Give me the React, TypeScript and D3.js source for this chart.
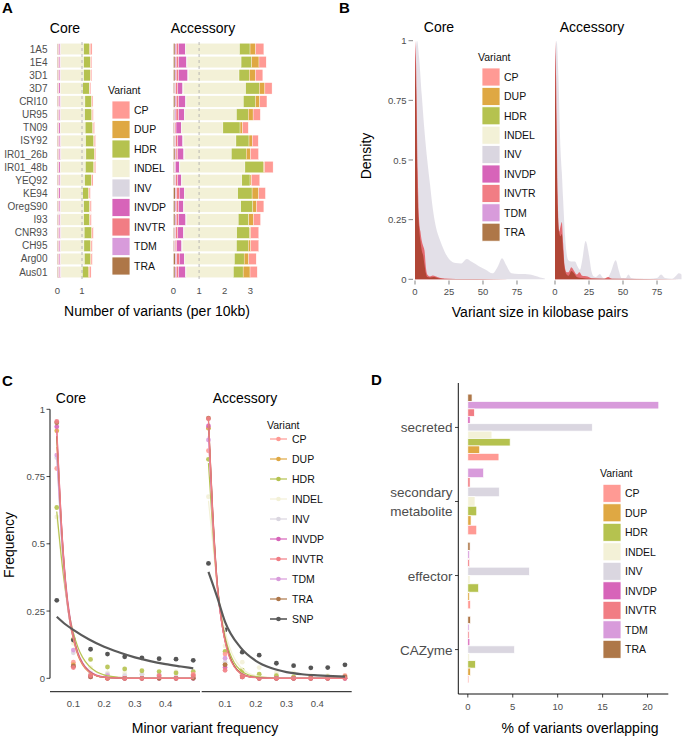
import React from "react";
import * as d3 from "d3";

const FONT = "'Liberation Sans', Arial, Helvetica, sans-serif";
const TXT = "#4D4D4D";

const variants = ["CP", "DUP", "HDR", "INDEL", "INV", "INVDP", "INVTR", "TDM", "TRA"];
const variantColors = ["#FF9A94", "#DFA843", "#B5C24F", "#F3F1D7", "#DAD6E0", "#D764B9", "#F17D84", "#D89BDB", "#AE7748"];
const color = d3.scaleOrdinal<string, string>().domain(variants).range(variantColors);

// ---------------- Panel A data ----------------
const strains = ["1A5", "1E4", "3D1", "3D7", "CRI10", "UR95", "TN09", "ISY92", "IR01_26b", "IR01_48b", "YEQ92", "KE94", "OregS90", "I93", "CNR93", "CH95", "Arg00", "Aus01"];
const coreTRA = [0.04, 0.04, 0.04, 0.03, 0.04, 0.04, 0.03, 0.04, 0.04, 0.03, 0.04, 0.03, 0.04, 0.04, 0.04, 0.04, 0.04, 0.05];
const coreTDM = [0.01, 0.01, 0.01, 0.01, 0.01, 0.01, 0.01, 0.01, 0.01, 0.01, 0.01, 0.01, 0.01, 0.01, 0.01, 0.01, 0.01, 0.01];
const coreINVTR = [0.02, 0.02, 0.02, 0.02, 0.02, 0.02, 0.02, 0.02, 0.02, 0.02, 0.02, 0.02, 0.02, 0.02, 0.02, 0.02, 0.02, 0.02];
const coreINVDP = [0.05, 0.05, 0.05, 0.05, 0.06, 0.05, 0.05, 0.06, 0.06, 0.05, 0.05, 0.05, 0.05, 0.05, 0.06, 0.05, 0.05, 0.05];
const coreINV = [0.01, 0.01, 0.01, 0.01, 0.01, 0.01, 0.01, 0.01, 0.01, 0.01, 0.01, 0.01, 0.01, 0.01, 0.01, 0.01, 0.01, 0.01];
const coreINDEL = [0.94, 0.94, 0.94, 0.91, 0.98, 0.98, 1.01, 1.01, 1.02, 1.02, 0.98, 0.91, 0.94, 0.94, 0.95, 0.95, 0.97, 0.88];
const coreHDR = [0.24, 0.27, 0.27, 0.27, 0.27, 0.29, 0.31, 0.33, 0.34, 0.34, 0.27, 0.24, 0.24, 0.24, 0.29, 0.27, 0.24, 0.24];
const coreDUP = [0.03, 0.02, 0.02, 0.02, 0.02, 0.02, 0.02, 0.02, 0.02, 0.03, 0.02, 0.02, 0.02, 0.02, 0.03, 0.02, 0.03, 0.04];
const coreCP = [0.07, 0.04, 0.04, 0.04, 0.04, 0.04, 0.05, 0.05, 0.04, 0.05, 0.05, 0.05, 0.05, 0.05, 0.05, 0.05, 0.05, 0.07];

const accTRA = [0.06, 0.06, 0.06, 0.05, 0.06, 0.05, 0.04, 0.05, 0.06, 0.04, 0.05, 0.07, 0.06, 0.06, 0.05, 0.04, 0.07, 0.06];
const accTDM = [0.05, 0.05, 0.05, 0.04, 0.05, 0.05, 0.02, 0.04, 0.04, 0.02, 0.04, 0.05, 0.05, 0.05, 0.04, 0.03, 0.06, 0.05];
const accINVTR = [0.09, 0.09, 0.09, 0.08, 0.09, 0.1, 0.04, 0.08, 0.07, 0.02, 0.08, 0.11, 0.09, 0.09, 0.08, 0.06, 0.1, 0.09];
const accINVDP = [0.26, 0.31, 0.36, 0.19, 0.27, 0.22, 0.2, 0.19, 0.23, 0.15, 0.14, 0.19, 0.19, 0.28, 0.22, 0.19, 0.19, 0.27];
const accINV = [0.02, 0.02, 0.02, 0.02, 0.02, 0.02, 0.02, 0.02, 0.02, 0.02, 0.02, 0.02, 0.02, 0.02, 0.02, 0.02, 0.02, 0.02];
const accINDEL = [2.1, 2.11, 1.98, 2.44, 2.24, 2.02, 1.61, 2.06, 1.84, 2.54, 2.34, 2.07, 2.22, 2.03, 2.06, 2.12, 1.94, 1.85];
const accHDR = [0.41, 0.41, 0.4, 0.53, 0.47, 0.46, 0.67, 0.51, 0.58, 0.72, 0.32, 0.56, 0.47, 0.41, 0.5, 0.46, 0.38, 0.38];
const accDUP = [0.22, 0.29, 0.24, 0.22, 0.17, 0.19, 0.1, 0.13, 0.17, 0.05, 0.06, 0.26, 0.15, 0.19, 0.05, 0.1, 0.18, 0.27];
const accCP = [0.32, 0.28, 0.29, 0.28, 0.28, 0.28, 0.22, 0.23, 0.31, 0.33, 0.32, 0.26, 0.28, 0.27, 0.31, 0.31, 0.29, 0.28];

const stackKeys = ["TRA", "TDM", "INVTR", "INVDP", "INV", "INDEL", "HDR", "DUP", "CP"];

// ---------------- Panel B data (kb, density) ----------------
const coreDensINV: [number, number][] = [[0, 0.92], [1.5, 1.0], [3, 0.93], [5, 0.77], [7, 0.62], [9, 0.5], [11, 0.4], [13, 0.3], [15, 0.23], [18, 0.17], [20, 0.14], [25, 0.085], [30, 0.068], [34, 0.066], [38, 0.085], [42, 0.072], [47, 0.055], [52, 0.04], [57, 0.025], [61, 0.055], [64, 0.088], [67, 0.06], [71, 0.025], [76, 0.022], [81, 0.022], [88, 0.015], [92, 0.008], [95.5, 0.003]];
const coreDensINVTR: [number, number][] = [[0, 1.0], [0.8, 0.9], [2, 0.45], [3, 0.25], [4, 0.2], [5, 0.16], [6, 0.14], [7, 0.12], [8, 0.05], [9, 0.02], [11, 0.012], [13, 0.016], [15, 0.013], [18, 0.006], [22, 0.003], [30, 0.001], [95, 0]];
const coreDensTRA: [number, number][] = [[0, 0.95], [0.8, 0.8], [2, 0.35], [3, 0.22], [4, 0.16], [5, 0.12], [6, 0.1], [7, 0.06], [8, 0.025], [9, 0.01], [11, 0.008], [14, 0.01], [17, 0.004], [22, 0.001], [95, 0]];
const accDensINV: [number, number][] = [[0, 0.9], [1.2, 1.0], [2.5, 0.85], [4, 0.55], [5, 0.45], [6, 0.33], [7.4, 0.18], [8.5, 0.11], [9.8, 0.08], [12, 0.075], [14.7, 0.075], [16.5, 0.055], [18.4, 0.04], [20, 0.08], [22.5, 0.16], [25, 0.1], [27, 0.03], [28.5, 0.012], [30, 0.01], [33, 0.022], [35, 0.008], [38, 0.003], [41, 0.03], [44.6, 0.08], [47, 0.035], [49, 0.005], [52, 0.005], [54, 0.02], [56, 0.005], [60, 0.002], [70, 0.002], [75, 0.005], [78, 0.02], [81, 0.005], [86, 0.002], [89, 0.015], [91, 0.025], [93, 0.02]];
const accDensINVTR: [number, number][] = [[0, 1.0], [0.8, 0.85], [2, 0.35], [3, 0.2], [4, 0.22], [5, 0.24], [6, 0.15], [7, 0.06], [8.5, 0.03], [10, 0.03], [12, 0.05], [14, 0.035], [16, 0.02], [18, 0.03], [20, 0.015], [24, 0.012], [27, 0.004], [36, 0.002], [39, 0.01], [42, 0.002], [93, 0]];
const accDensTRA: [number, number][] = [[0, 0.95], [0.8, 0.7], [2, 0.3], [3, 0.2], [4, 0.18], [5, 0.19], [6, 0.12], [7, 0.05], [8.5, 0.02], [10, 0.015], [12, 0.035], [14, 0.025], [16, 0.01], [20, 0.005], [25, 0.002], [93, 0]];

// ---------------- Panel C data ----------------
const mafBins = [0.046, 0.1, 0.156, 0.211, 0.267, 0.323, 0.379, 0.434, 0.49];
const coreFreqCP = [0.78, 0.06, 0.01, 0.005, 0, 0, 0.005, 0, 0.015];
const coreFreqDUP = [0.92, 0.05, 0.01, 0, 0, 0, 0, 0, 0.005];
const coreFreqHDR = [0.635, 0.145, 0.07, 0.042, 0.035, 0.028, 0.025, 0.02, 0.025];
const coreFreqINDEL = [0.6, 0.13, 0.04, 0.02, 0.02, 0.015, 0.01, 0.025, 0.015];
const coreFreqINV = [0.82, 0.095, 0.02, 0.015, 0.01, 0.015, 0.015, 0.005, 0.01];
const coreFreqINVDP = [0.935, 0.045, 0.005, 0, 0, 0, 0, 0, 0];
const coreFreqINVTR = [0.955, 0.04, 0.01, 0, 0, 0, 0.01, 0, 0.01];
const coreFreqTDM = [0.83, 0.105, 0.01, 0.01, 0, 0, 0, 0, 0];
const coreFreqTRA = [0.95, 0.045, 0.005, 0, 0, 0, 0, 0, 0];
const coreFreqSNP = [0.29, 0.142, 0.108, 0.09, 0.08, 0.076, 0.073, 0.071, 0.067];

const accFreqCP = [0.846, 0.09, 0.01, 0, 0, 0, 0, 0, 0.01];
const accFreqDUP = [0.93, 0.05, 0.01, 0, 0, 0, 0, 0, 0];
const accFreqHDR = [0.814, 0.1, 0.03, 0.015, 0.01, 0.005, 0.005, 0.005, 0.005];
const accFreqINDEL = [0.675, 0.12, 0.06, 0.04, 0.02, 0.02, 0.01, 0.01, 0.01];
const accFreqINV = [0.93, 0.06, 0.015, 0.005, 0, 0, 0, 0, 0];
const accFreqINVDP = [0.938, 0.04, 0.005, 0, 0, 0, 0, 0, 0];
const accFreqINVTR = [0.965, 0.03, 0.005, 0, 0, 0, 0, 0, 0];
const accFreqTDM = [0.886, 0.075, 0.01, 0, 0, 0, 0, 0, 0];
const accFreqTRA = [0.967, 0.05, 0.005, 0, 0, 0, 0, 0, 0.005];
const accFreqSNP = [0.427, 0.18, 0.097, 0.086, 0.056, 0.047, 0.039, 0.04, 0.05];

// fitted curves
const fitX = [0.046, 0.06, 0.075, 0.09, 0.1, 0.115, 0.13, 0.15, 0.175, 0.2, 0.25, 0.3, 0.4, 0.49];
const coreFitCP = [0.86, 0.56, 0.33, 0.2, 0.15, 0.09, 0.055, 0.027, 0.01, 0.004, 0.001, 0, 0, 0];
const coreFitDUP = [0.9, 0.58, 0.34, 0.2, 0.145, 0.085, 0.05, 0.024, 0.009, 0.003, 0.001, 0, 0, 0];
const coreFitHDR = [0.62, 0.46, 0.32, 0.22, 0.17, 0.115, 0.078, 0.047, 0.024, 0.013, 0.004, 0.001, 0, 0];
const coreFitINDEL = [0.6, 0.45, 0.31, 0.21, 0.165, 0.11, 0.075, 0.045, 0.022, 0.012, 0.003, 0.001, 0, 0];
const coreFitINV = [0.82, 0.54, 0.33, 0.2, 0.15, 0.09, 0.055, 0.027, 0.011, 0.004, 0.001, 0, 0, 0];
const coreFitINVDP = [0.92, 0.6, 0.36, 0.22, 0.16, 0.095, 0.058, 0.029, 0.012, 0.005, 0.001, 0, 0, 0];
const coreFitINVTR = [0.93, 0.6, 0.35, 0.21, 0.15, 0.088, 0.052, 0.025, 0.01, 0.004, 0.001, 0, 0, 0];
const coreFitTDM = [0.83, 0.55, 0.33, 0.2, 0.15, 0.09, 0.055, 0.027, 0.011, 0.004, 0.001, 0, 0, 0];
const coreFitTRA = [0.9, 0.59, 0.35, 0.21, 0.155, 0.09, 0.054, 0.026, 0.01, 0.004, 0.001, 0, 0, 0];
const accFitCP = [0.9, 0.58, 0.33, 0.2, 0.14, 0.08, 0.045, 0.02, 0.007, 0.003, 0, 0, 0, 0];
const accFitDUP = [0.94, 0.6, 0.34, 0.2, 0.14, 0.08, 0.045, 0.02, 0.007, 0.003, 0, 0, 0, 0];
const accFitHDR = [0.8, 0.55, 0.34, 0.21, 0.155, 0.095, 0.058, 0.03, 0.013, 0.006, 0.002, 0, 0, 0];
const accFitINDEL = [0.66, 0.5, 0.34, 0.23, 0.175, 0.115, 0.075, 0.042, 0.02, 0.01, 0.003, 0.001, 0, 0];
const accFitINV = [0.93, 0.6, 0.34, 0.2, 0.14, 0.08, 0.045, 0.02, 0.007, 0.003, 0, 0, 0, 0];
const accFitINVDP = [0.95, 0.61, 0.35, 0.2, 0.14, 0.08, 0.045, 0.02, 0.007, 0.003, 0, 0, 0, 0];
const accFitINVTR = [0.96, 0.61, 0.34, 0.2, 0.135, 0.075, 0.042, 0.018, 0.006, 0.002, 0, 0, 0, 0];
const accFitTDM = [0.9, 0.59, 0.34, 0.2, 0.14, 0.08, 0.045, 0.02, 0.007, 0.003, 0, 0, 0, 0];
const accFitTRA = [0.96, 0.62, 0.35, 0.21, 0.145, 0.082, 0.046, 0.02, 0.007, 0.003, 0, 0, 0, 0];
const snpFitX = [0.046, 0.075, 0.1, 0.15, 0.2, 0.25, 0.3, 0.35, 0.4, 0.45, 0.49];
const coreFitSNP = [0.229, 0.2, 0.18, 0.145, 0.117, 0.096, 0.078, 0.064, 0.053, 0.044, 0.037];
const accFitSNP = [0.396, 0.3, 0.21, 0.115, 0.065, 0.038, 0.023, 0.015, 0.011, 0.008, 0.006];

// ---------------- Panel D data ----------------
const geneCats = ["secreted", "secondary metabolite", "effector", "CAZyme"];
const ovCP = [3.46, 0.99, 0.3, 0.12];
const ovDUP = [1.32, 0.36, 0.2, 0.3];
const ovHDR = [4.71, 0.99, 1.2, 0.85];
const ovINDEL = [2.68, 0.8, 0.25, 0.2];
const ovINV = [13.85, 3.5, 6.85, 5.2];
const ovINVDP = [0.25, null, null, 0.22];
const ovINVTR = [0.73, 0.25, 0.2, 0.15];
const ovTDM = [21.25, 1.76, 0.2, 0.15];
const ovTRA = [0.47, null, 0.25, 0.3];

// ---------------- helpers ----------------
function SquareLegend({ tx, ty, kx, y0, step, lx }: any) {
  return (
    <g>
      <text x={tx} y={ty} fontSize={10.5} fill="#111">Variant</text>
      {variants.map((v, i) => (
        <g key={v}>
          <rect x={kx} y={y0 + i * step - 9} width={18} height={18} fill={color(v)} stroke="#fff" strokeWidth={0.8} />
          <text x={lx} y={y0 + i * step + 3.8} fontSize={10.5} fill="#111">{v}</text>
        </g>
      ))}
    </g>
  );
}

function PanelA() {
  const y = d3.scalePoint<string>().domain(strains).range([49, 272]);
  const bh = 11.4;
  const compartments = [
    { name: "Core", vals: { TRA: coreTRA, TDM: coreTDM, INVTR: coreINVTR, INVDP: coreINVDP, INV: coreINV, INDEL: coreINDEL, HDR: coreHDR, DUP: coreDUP, CP: coreCP } as any, x: d3.scaleLinear().domain([0, 1.65]).range([57.5, 57.5 + 1.65 * 24.5]), ticks: [0, 1], title: 65 },
    { name: "Accessory", vals: { TRA: accTRA, TDM: accTDM, INVTR: accINVTR, INVDP: accINVDP, INV: accINV, INDEL: accINDEL, HDR: accHDR, DUP: accDUP, CP: accCP } as any, x: d3.scaleLinear().domain([0, 3.9]).range([173.5, 173.5 + 3.9 * 25.6]), ticks: [0, 1, 2, 3], title: 203 },
  ];
  return (
    <g>
      <text x={2} y={13} fontSize={15} fontWeight="bold">A</text>
      {strains.map((s) => (
        <text key={s} x={47.5} y={(y(s) as number) + 3.6} fontSize={10} textAnchor="end" fill={TXT}>{s}</text>
      ))}
      {compartments.map((c) => {
        const rows = strains.map((s, i) => {
          const o: any = { strain: s };
          stackKeys.forEach((k) => (o[k] = c.vals[k][i]));
          return o;
        });
        const series = d3.stack().keys(stackKeys)(rows);
        return (
          <g key={c.name}>
            <text x={c.title} y={33} fontSize={14} textAnchor="middle">{c.name}</text>
            {series.map((ser) => (
              <g key={ser.key}>
                {ser.map((d: any, i) => (
                  <rect key={i} x={c.x(d[0])} y={(y(strains[i]) as number) - bh / 2} width={Math.max(0, c.x(d[1]) - c.x(d[0]))} height={bh} fill={color(ser.key)} stroke="#fff" strokeWidth={0.35} />
                ))}
              </g>
            ))}
            <line x1={c.x(1)} x2={c.x(1)} y1={42} y2={279} stroke="#A8A8A8" strokeWidth={0.8} strokeDasharray="3,3" />
            {c.ticks.map((t) => (
              <text key={t} x={c.x(t)} y={293.5} fontSize={9.5} textAnchor="middle" fill={TXT}>{t}</text>
            ))}
          </g>
        );
      })}
      <text x={157} y={316} fontSize={14} textAnchor="middle">Number of variants (per 10kb)</text>
      <SquareLegend tx={108} ty={94} kx={112} y0={110} step={19.5} lx={134} />
    </g>
  );
}

function PanelB() {
  const y = d3.scaleLinear().domain([0, 1]).range([279.3, 40.7]);
  const panels = [
    { name: "Core", x: d3.scaleLinear().domain([0, 95.6]).range([415, 545]), inv: coreDensINV, invtr: coreDensINVTR, tra: coreDensTRA, tx: 439 },
    { name: "Accessory", x: d3.scaleLinear().domain([0, 93]).range([555, 681.5]), inv: accDensINV, invtr: accDensINVTR, tra: accDensTRA, tx: 592 },
  ];
  const yt = [0, 0.25, 0.5, 0.75, 1];
  return (
    <g>
      <text x={339} y={13} fontSize={15} fontWeight="bold">B</text>
      {yt.map((t) => (
        <g key={t}>
          <text x={406.5} y={y(t) + 3.5} fontSize={9.5} textAnchor="end" fill={TXT}>{String(t)}</text>
          <line x1={408.5} x2={413} y1={y(t)} y2={y(t)} stroke="#333" strokeWidth={0.6} />
        </g>
      ))}
      {panels.map((p) => {
        const area = d3.area<[number, number]>().x((d) => p.x(d[0])).y0(y(0)).y1((d) => y(d[1])).curve(d3.curveMonotoneX);
        return (
          <g key={p.name}>
            <text x={p.tx} y={31.5} fontSize={14} textAnchor="middle">{p.name}</text>
            <path d={area(p.inv) as string} fill="#DAD6E0" fillOpacity={0.75} />
            <path d={area(p.invtr) as string} fill="#E3565C" fillOpacity={0.85} />
            <path d={area(p.tra) as string} fill="#A7402B" fillOpacity={0.85} />
            {[0, 25, 50, 75].map((t) => (
              <g key={t}>
                <line x1={p.x(t)} x2={p.x(t)} y1={280.5} y2={284.5} stroke="#333" strokeWidth={0.6} />
                <text x={p.x(t)} y={294.5} fontSize={9.5} textAnchor="middle" fill={TXT}>{t}</text>
              </g>
            ))}
          </g>
        );
      })}
      <text transform="translate(371,156) rotate(-90)" fontSize={14} textAnchor="middle">Density</text>
      <text x={540} y={316.5} fontSize={14} textAnchor="middle">Variant size in kilobase pairs</text>
      <SquareLegend tx={478} ty={60.5} kx={482} y0={77} step={19.4} lx={504} />
    </g>
  );
}

function PanelC() {
  const y = d3.scaleLinear().domain([0, 1]).range([678.3, 409.3]);
  const coreFreq: any = { CP: coreFreqCP, DUP: coreFreqDUP, HDR: coreFreqHDR, INDEL: coreFreqINDEL, INV: coreFreqINV, INVDP: coreFreqINVDP, INVTR: coreFreqINVTR, TDM: coreFreqTDM, TRA: coreFreqTRA };
  const accFreq: any = { CP: accFreqCP, DUP: accFreqDUP, HDR: accFreqHDR, INDEL: accFreqINDEL, INV: accFreqINV, INVDP: accFreqINVDP, INVTR: accFreqINVTR, TDM: accFreqTDM, TRA: accFreqTRA };
  const coreFit: any = { CP: coreFitCP, DUP: coreFitDUP, HDR: coreFitHDR, INDEL: coreFitINDEL, INV: coreFitINV, INVDP: coreFitINVDP, INVTR: coreFitINVTR, TDM: coreFitTDM, TRA: coreFitTRA };
  const accFit: any = { CP: accFitCP, DUP: accFitDUP, HDR: accFitHDR, INDEL: accFitINDEL, INV: accFitINV, INVDP: accFitINVDP, INVTR: accFitINVTR, TDM: accFitTDM, TRA: accFitTRA };
  const panels = [
    { name: "Core", x: d3.scaleLinear().domain([0.024, 0.512]).range([50, 200]), freq: coreFreq, fit: coreFit, snp: coreFreqSNP, snpFit: coreFitSNP, tx: 71 },
    { name: "Accessory", x: d3.scaleLinear().domain([0.024, 0.512]).range([201.7, 351.7]), freq: accFreq, fit: accFit, snp: accFreqSNP, snpFit: accFitSNP, tx: 245 },
  ];
  const drawOrder = ["INDEL", "INV", "HDR", "CP", "DUP", "TDM", "INVDP", "TRA", "INVTR"];
  const yt = [0, 0.25, 0.5, 0.75, 1];
  const legendItems = [...variants, "SNP"];
  const lc = (v: string) => (v === "SNP" ? "#595959" : color(v));
  return (
    <g>
      <text x={2} y={386} fontSize={15} fontWeight="bold">C</text>
      <line x1={50} x2={50} y1={y(1)} y2={y(0)} stroke="#111" strokeWidth={1} />
      {yt.map((t) => (
        <g key={t}>
          <text x={45} y={y(t) + 3.5} fontSize={9.5} textAnchor="end" fill={TXT}>{String(t)}</text>
          <line x1={46.5} x2={50} y1={y(t)} y2={y(t)} stroke="#111" strokeWidth={0.8} />
        </g>
      ))}
      {panels.map((p) => {
        const line = d3.line<[number, number]>().x((d) => p.x(d[0])).y((d) => y(d[1])).curve(d3.curveMonotoneX);
        return (
          <g key={p.name}>
            <text x={p.tx} y={403} fontSize={14} textAnchor="middle">{p.name}</text>
            <line x1={p.x.range()[0]} x2={p.x.range()[1]} y1={691.7} y2={691.7} stroke="#111" strokeWidth={1} />
            {[0.1, 0.2, 0.3, 0.4].map((t) => (
              <text key={t} x={p.x(t)} y={706.5} fontSize={9.5} textAnchor="middle" fill={TXT}>{String(t)}</text>
            ))}
            {drawOrder.map((v) => (
              <g key={v}>
                {mafBins.map((m, i) => (
                  <circle key={i} cx={p.x(m)} cy={y(p.freq[v][i])} r={2.4} fill={color(v)} fillOpacity={0.9} />
                ))}
              </g>
            ))}
            {mafBins.map((m, i) => (
              <circle key={"s" + i} cx={p.x(m)} cy={y(p.snp[i])} r={2.4} fill="#555" />
            ))}
            {drawOrder.map((v) => (
              <path key={"f" + v} d={line(fitX.map((fx, i) => [fx, p.fit[v][i]] as [number, number])) as string} fill="none" stroke={color(v)} strokeWidth={1.2} />
            ))}
            <path d={line(snpFitX.map((fx, i) => [fx, p.snpFit[i]] as [number, number])) as string} fill="none" stroke="#5A5A5A" strokeWidth={2.2} />
          </g>
        );
      })}
      <text transform="translate(14,545) rotate(-90)" fontSize={14} textAnchor="middle">Frequency</text>
      <text x={205} y={733} fontSize={14} textAnchor="middle">Minor variant frequency</text>
      <text x={267} y={429} fontSize={10.5} fill="#111">Variant</text>
      {legendItems.map((v, i) => (
        <g key={v}>
          <line x1={270} x2={287} y1={439 + i * 20} y2={439 + i * 20} stroke={lc(v)} strokeWidth={v === "SNP" ? 1.6 : 1.2} />
          <circle cx={278.5} cy={439 + i * 20} r={2.3} fill={lc(v)} />
          <text x={292} y={442.8 + i * 20} fontSize={10.5} fill="#111">{v}</text>
        </g>
      ))}
    </g>
  );
}

function PanelD() {
  const ov: any = { CP: ovCP, DUP: ovDUP, HDR: ovHDR, INDEL: ovINDEL, INV: ovINV, INVDP: ovINVDP, INVTR: ovINVTR, TDM: ovTDM, TRA: ovTRA };
  const x = d3.scaleLinear().domain([-1.06, 22.31]).range([458.3, 668.3]);
  const y = d3.scalePoint<string>().domain(geneCats).range([383, 694]).padding(0.6);
  const dodge = 0.9 * y.step();
  const topToBottom = ["TRA", "TDM", "INVTR", "INVDP", "INV", "INDEL", "HDR", "DUP", "CP"];
  return (
    <g>
      <text x={371} y={385} fontSize={15} fontWeight="bold">D</text>
      {geneCats.map((c, ci) => {
        const present = topToBottom.filter((v) => ov[v][ci] != null);
        const bw = dodge / present.length;
        const cy = y(c) as number;
        return (
          <g key={c}>
            {present.map((v, j) => (
              <rect key={v} x={x(0)} y={cy - dodge / 2 + j * bw} width={x(ov[v][ci]) - x(0)} height={bw} fill={color(v)} stroke="#fff" strokeWidth={0.7} />
            ))}
            <line x1={455} x2={458.3} y1={cy} y2={cy} stroke="#111" strokeWidth={0.8} />
            {c === "secondary metabolite" ? (
              <text x={452.5} y={cy} fontSize={13.5} textAnchor="end" fill={TXT}>
                <tspan x={452.5} y={cy - 4.5}>secondary</tspan>
                <tspan x={452.5} y={cy + 14.5}>metabolite</tspan>
              </text>
            ) : (
              <text x={452.5} y={cy + 5} fontSize={13.5} textAnchor="end" fill={TXT}>{c}</text>
            )}
          </g>
        );
      })}
      <line x1={458.3} x2={458.3} y1={383} y2={694} stroke="#111" strokeWidth={1} />
      <line x1={458.3} x2={668.3} y1={694} y2={694} stroke="#111" strokeWidth={1} />
      {[0, 5, 10, 15, 20].map((t) => (
        <g key={t}>
          <line x1={x(t)} x2={x(t)} y1={694} y2={697.5} stroke="#111" strokeWidth={0.8} />
          <text x={x(t)} y={709.5} fontSize={9.5} textAnchor="middle" fill={TXT}>{t}</text>
        </g>
      ))}
      <text x={580} y={733} fontSize={14} textAnchor="middle">% of variants overlapping</text>
      <SquareLegend tx={600} ty={477} kx={603} y0={493.3} step={19.5} lx={625} />
    </g>
  );
}

export default function App() {
  return (
    <svg width={685} height={737} viewBox="0 0 685 737" style={{ position: "absolute", left: 0, top: 0, background: "#fff" }} fontFamily={FONT}>
      <rect width={685} height={737} fill="#fff" />
      <PanelA />
      <PanelB />
      <PanelC />
      <PanelD />
    </svg>
  );
}
